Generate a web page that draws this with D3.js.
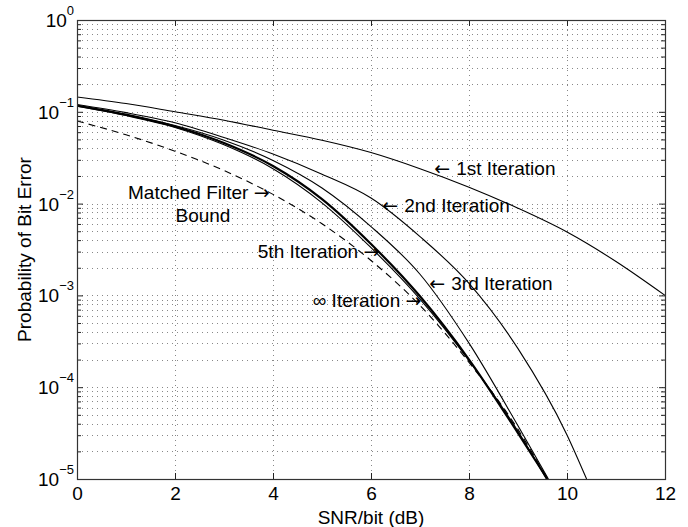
<!DOCTYPE html>
<html>
<head>
<meta charset="utf-8">
<script src="https://cdn.jsdelivr.net/npm/d3@7"></script>
<style>
  body { margin: 0; background: #fff; }
  svg { display: block; font-family: "Liberation Sans", Arial, Helvetica, sans-serif; }
  .arrow { font-family: "DejaVu Sans", sans-serif; }
</style>
</head>
<body>
<script>
// SNR/bit (dB) sample points
var snr = [0, 1, 2, 3, 4, 5, 6, 7, 8, 9, 10, 11, 12];

// probability of bit error
var iter1 = [0.145, 0.123, 0.100, 0.081, 0.063, 0.049, 0.036, 0.024, 0.0151, 0.0089, 0.0049, 0.00234, 0.0010];
var iter2 = [0.120, 0.098, 0.076, 0.0525, 0.0347, 0.0209, 0.0115, 0.00437, 0.00135, 0.000263, 0.0000302, 0.0000100];
var iter2Snr = [0, 1, 2, 3, 4, 5, 6, 7, 8, 9, 10, 10.4];
var iter3 = [0.117, 0.093, 0.0708, 0.0490, 0.0295, 0.0148, 0.00562, 0.00170, 0.000302, 0.000038, 0.0000100];
var iter3Snr = [0, 1, 2, 3, 4, 5, 6, 7, 8, 9, 9.62];
var iter5 = [0.117, 0.093, 0.0692, 0.0457, 0.0257, 0.0112, 0.00363, 0.000977, 0.000200, 0.0000316, 0.0000100];
var iter5Snr = [0, 1, 2, 3, 4, 5, 6, 7, 8, 9, 9.6];
var iterInf = [0.115, 0.091, 0.0676, 0.0437, 0.0240, 0.0102, 0.00331, 0.000912, 0.000195, 0.0000331, 0.0000100];
var iterInfSnr = [0, 1, 2, 3, 4, 5, 6, 7, 8, 9, 9.58];
var mfBound = [0.0794, 0.0562, 0.0372, 0.0229, 0.0126, 0.00603, 0.00240, 0.000776, 0.000186, 0.0000347, 0.0000100];
var mfSnr = [0, 1, 2, 3, 4, 5, 6, 7, 8, 9, 9.6];

var xTicks = [0, 2, 4, 6, 8, 10, 12];
var yExponents = [0, -1, -2, -3, -4, -5];

// annotation labels: [arrow before, text, arrow after, snr, P, anchor]
var notes = [
  ["\u2190 ", "1st Iteration", "", 7.29, 0.0205, "start"],
  ["\u2190 ", "2nd Iteration", "", 6.23, 0.0081, "start"],
  ["\u2190 ", "3rd Iteration", "", 7.19, 0.00115, "start"],
  ["", "5th Iteration ", "\u2192", 6.17, 0.00257, "end"],
  ["", "\u221e Iteration ", "\u2192", 7.03, 0.00074, "end"],
  ["", "Matched Filter ", "\u2192", 3.93, 0.0112, "end"],
  ["", "Bound", "", 2.57, 0.0063, "middle"]
];

var width = 688, height = 527;
var margin = {top: 20, right: 23, bottom: 48, left: 77};

var svg = d3.select("body").append("svg")
  .attr("width", width)
  .attr("height", height);

var x = d3.scaleLinear().domain([0, 12]).range([margin.left, width - margin.right]);
var y = d3.scaleLog().domain([1e-5, 1]).range([height - margin.bottom, margin.top]);

// minor / major values on the log axis
var yMajor = yExponents.map(function(e){ return Math.pow(10, e); });
var yAll = [];
for (var e = -5; e < 0; e++) {
  for (var m = 1; m <= 9; m++) yAll.push(m * Math.pow(10, e));
}
yAll.push(1);
var yMinor = yAll.filter(function(v){ return yMajor.indexOf(v) < 0; });

// dotted grid
var grid = svg.append("g").attr("stroke", "#888").attr("stroke-width", 1).attr("stroke-dasharray", "1,4");
grid.selectAll("line.h").data(yAll.slice(1, -1)).enter().append("line")
  .attr("x1", x(0)).attr("x2", x(12))
  .attr("y1", function(d){ return Math.round(y(d)) + 0.5; })
  .attr("y2", function(d){ return Math.round(y(d)) + 0.5; });
grid.selectAll("line.v").data(xTicks.slice(1, -1)).enter().append("line")
  .attr("y1", y(1)).attr("y2", y(1e-5))
  .attr("x1", function(d){ return Math.round(x(d)) + 0.5; })
  .attr("x2", function(d){ return Math.round(x(d)) + 0.5; });

// curves
svg.append("clipPath").attr("id", "clip").append("rect")
  .attr("x", x(0)).attr("y", y(1))
  .attr("width", x(12) - x(0)).attr("height", y(1e-5) - y(1));

var line = d3.line().curve(d3.curveMonotoneX)
  .x(function(d){ return x(d[0]); })
  .y(function(d){ return y(d[1]); });

function pairs(xs, ys) { return xs.map(function(v, i){ return [v, ys[i]]; }); }

var series = [
  {data: pairs(snr, iter1), w: 1.1, dash: null},
  {data: pairs(iter2Snr, iter2), w: 1.1, dash: null},
  {data: pairs(iter3Snr, iter3), w: 1.1, dash: null},
  {data: pairs(iterInfSnr, iterInf), w: 1.1, dash: null},
  {data: pairs(iter5Snr, iter5), w: 2.2, dash: null},
  {data: pairs(mfSnr, mfBound), w: 1.1, dash: "7,5"}
];

svg.append("g").attr("clip-path", "url(#clip)")
  .selectAll("path").data(series).enter().append("path")
  .attr("d", function(d){ return line(d.data); })
  .attr("fill", "none")
  .attr("stroke", "#000")
  .attr("stroke-width", function(d){ return d.w; })
  .attr("stroke-dasharray", function(d){ return d.dash; });

// axes (ticks pointing inward, box all round)
function styleAxis(g) {
  g.select(".domain").remove();
  g.selectAll(".tick line").attr("stroke", "#222");
}
svg.append("g").attr("transform", "translate(0," + y(1e-5) + ")")
  .call(d3.axisBottom(x).tickValues(xTicks).tickSizeInner(-6).tickSizeOuter(0).tickFormat(d3.format("d")))
  .call(styleAxis)
  .call(function(g){
    g.selectAll(".tick text").attr("y", 0).attr("dy", "21px")
      .attr("font-size", "19px").attr("font-family", "Liberation Sans, Arial, sans-serif").attr("fill", "#000");
  });
svg.append("g").attr("transform", "translate(0," + y(1) + ")")
  .call(d3.axisTop(x).tickValues(xTicks).tickSizeInner(-6).tickSizeOuter(0).tickFormat(""))
  .call(styleAxis);

svg.append("g").attr("transform", "translate(" + x(0) + ",0)")
  .call(d3.axisLeft(y).tickValues(yMajor).tickSizeInner(-6).tickSizeOuter(0).tickFormat(""))
  .call(styleAxis);
svg.append("g").attr("transform", "translate(" + x(0) + ",0)")
  .call(d3.axisLeft(y).tickValues(yMinor).tickSizeInner(-4).tickSizeOuter(0).tickFormat(""))
  .call(styleAxis);
svg.append("g").attr("transform", "translate(" + x(12) + ",0)")
  .call(d3.axisRight(y).tickValues(yMajor).tickSizeInner(-6).tickSizeOuter(0).tickFormat(""))
  .call(styleAxis);
svg.append("g").attr("transform", "translate(" + x(12) + ",0)")
  .call(d3.axisRight(y).tickValues(yMinor).tickSizeInner(-4).tickSizeOuter(0).tickFormat(""))
  .call(styleAxis);

// y tick labels as 10^n
var yLab = svg.append("g");
yExponents.forEach(function(ex){
  var t = yLab.append("text")
    .attr("x", x(0) - 3)
    .attr("y", y(Math.pow(10, ex)) + 7)
    .attr("text-anchor", "end")
    .attr("font-size", "19px")
    .attr("fill", "#000");
  t.append("tspan").text("10");
  t.append("tspan").attr("font-size", "13px").attr("dy", "-12")
    .text(ex === 0 ? "0" : "\u2212" + Math.abs(ex));
});

// plot box
svg.append("rect")
  .attr("x", x(0) + 0.5).attr("y", y(1) + 0.5)
  .attr("width", x(12) - x(0)).attr("height", y(1e-5) - y(1))
  .attr("fill", "none").attr("stroke", "#333").attr("stroke-width", 1.2);

// axis titles
svg.append("text")
  .attr("x", (x(0) + x(12)) / 2).attr("y", 524)
  .attr("text-anchor", "middle").attr("font-size", "19px")
  .text("SNR/bit (dB)");
svg.append("text")
  .attr("transform", "translate(31," + ((y(1) + y(1e-5)) / 2) + ") rotate(-90)")
  .attr("text-anchor", "middle").attr("font-size", "19px")
  .text("Probability of Bit Error");

// annotations
var ann = svg.append("g").selectAll("text").data(notes).enter().append("text")
  .attr("x", function(d){ return x(d[3]); })
  .attr("y", function(d){ return y(d[4]); })
  .attr("text-anchor", function(d){ return d[5]; })
  .attr("font-size", "19px")
  .attr("fill", "#000");
ann.append("tspan").attr("class", "arrow").text(function(d){ return d[0]; });
ann.append("tspan").text(function(d){ return d[1]; });
ann.append("tspan").attr("class", "arrow").text(function(d){ return d[2]; });
</script>
</body>
</html>
